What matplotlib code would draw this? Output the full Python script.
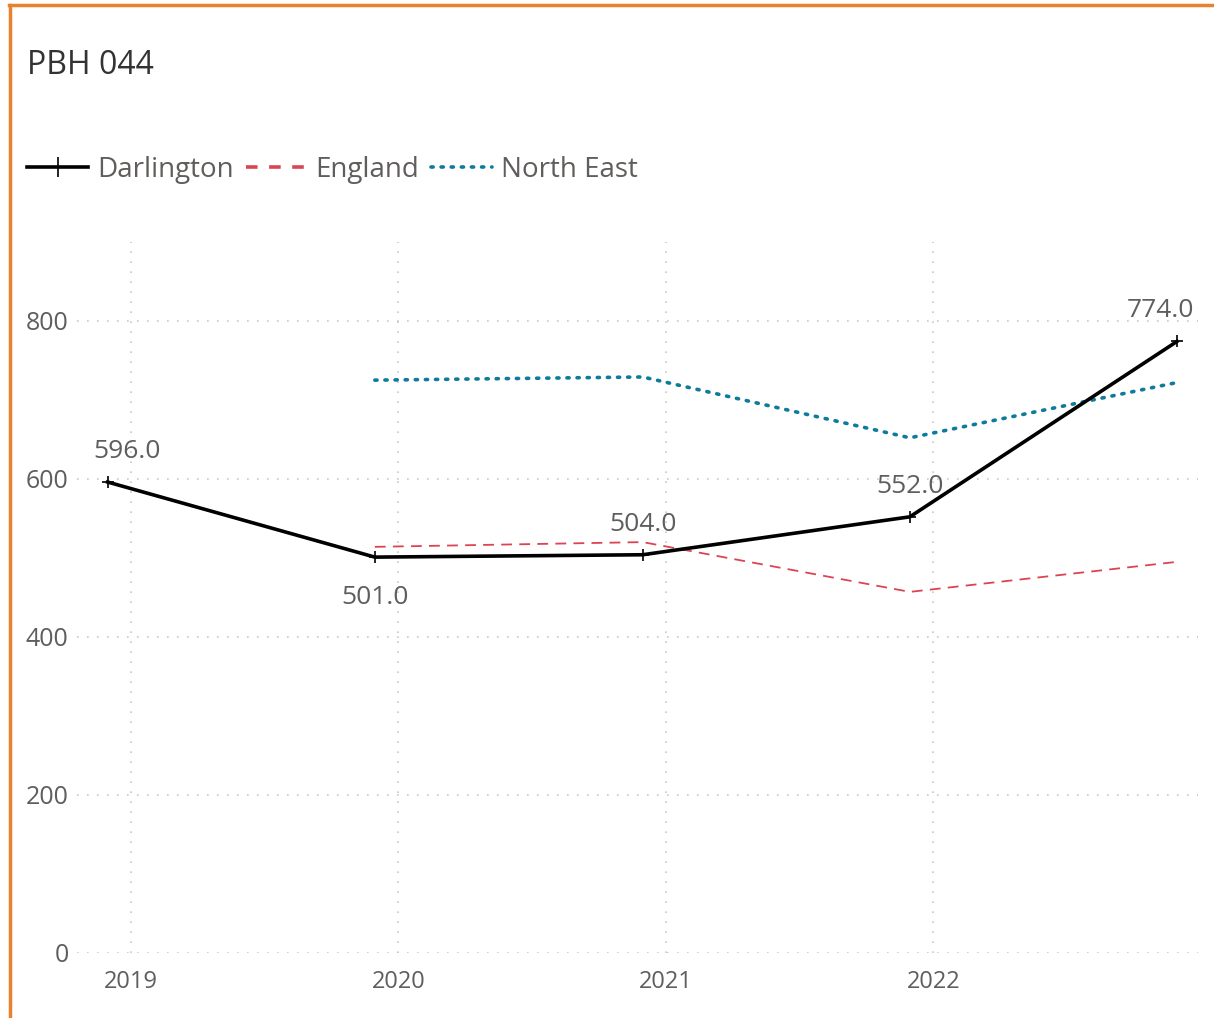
import matplotlib
matplotlib.use('Agg')
import matplotlib.pyplot as plt
import numpy as np
import pandas as pd
from matplotlib.lines import Line2D

# data
periods = ['2018-11-30', '2019-11-30', '2020-11-30', '2021-11-30', '2022-11-30']
darlington = [596.0, 501.0, 504.0, 552.0, 774.0]
england = [np.nan, 514, 520, 457, 495]
north_east = [np.nan, 725, 729, 652, 722]
year_ticks = ['2019-01-01', '2020-01-01', '2021-01-01', '2022-01-01']
year_labels = ['2019', '2020', '2021', '2022']
y_ticks = [0, 200, 400, 600, 800]

TEXT = '#605E5C'
RED = '#DA4453'
TEAL = '#0E7A9C'
ORANGE = '#E8822F'

plt.rcParams['font.family'] = ['Open Sans', 'DejaVu Sans']

dates = pd.to_datetime(periods)

fig = plt.figure(figsize=(12.14, 10.18), dpi=100)
ax = fig.add_axes([0.0634, 0.0639, 0.9236, 0.6985])

ax.plot(dates, darlington, color='black', lw=2.6, marker='+', ms=9, mew=1.2,
        label='Darlington', zorder=4)
ax.plot(dates, england, color=RED, lw=1.3, ls=(0, (6, 4)), label='England', zorder=3)
ax.plot(dates, north_east, color=TEAL, lw=2.6, ls=(0, (0.6, 2.2)),
        dash_capstyle='round', label='North East', zorder=3)

# data labels for Darlington
n = len(darlington)
for i, (d, v) in enumerate(zip(dates, darlington)):
    prev_v = darlington[i - 1] if i > 0 else np.inf
    next_v = darlington[i + 1] if i < n - 1 else np.inf
    below = v < prev_v and v < next_v
    dx = 14 if i == 0 else (-12 if i == n - 1 else 0)
    dy = -29 if below else 22
    ax.annotate(f'{v:.1f}', (d, v), xytext=(dx, dy), textcoords='offset points',
                ha='center', va='center', fontsize=19, color=TEXT)

ax.set_ylim(0, 900)
ax.set_xlim(pd.Timestamp('2018-10-19'), pd.Timestamp('2022-12-29'))
ax.set_yticks(y_ticks)
ax.set_xticks(pd.to_datetime(year_ticks))
ax.set_xticklabels(year_labels)
ax.tick_params(axis='both', length=0, labelcolor=TEXT)
ax.tick_params(axis='x', pad=12.5, labelsize=17)
ax.tick_params(axis='y', pad=6, labelsize=18)

ax.grid(True, color='#C8C8C8', ls=(0, (1, 5)), lw=1.2)
for s in ax.spines.values():
    s.set_visible(False)

# title and legend
fig.text(0.022, 0.936, 'PBH 044', fontsize=23, color='#333333', va='center')
handles = [
    Line2D([], [], color='black', lw=2.6, marker='+', ms=14, mew=1.2),
    Line2D([], [], color=RED, lw=2.6, ls=(0, (3.2, 3.2))),
    Line2D([], [], color=TEAL, lw=2.6, ls=(0, (0.6, 2.2)), dash_capstyle='round'),
]
fig.legend(handles, ['Darlington', 'England', 'North East'], loc='center left',
           bbox_to_anchor=(0.0222, 0.833), ncol=3, frameon=False, fontsize=20,
           labelcolor=TEXT, handlelength=2.2, handletextpad=0.32, columnspacing=0.43,
           borderpad=0, borderaxespad=0)

# orange frame on left and top
fig.add_artist(Line2D([0.0085, 0.0085], [0, 0.995], color=ORANGE, lw=2.5,
                      transform=fig.transFigure))
fig.add_artist(Line2D([0.0075, 1.0], [0.995, 0.995], color=ORANGE, lw=2.5,
                      transform=fig.transFigure))

fig.savefig('out.png', dpi=100)
